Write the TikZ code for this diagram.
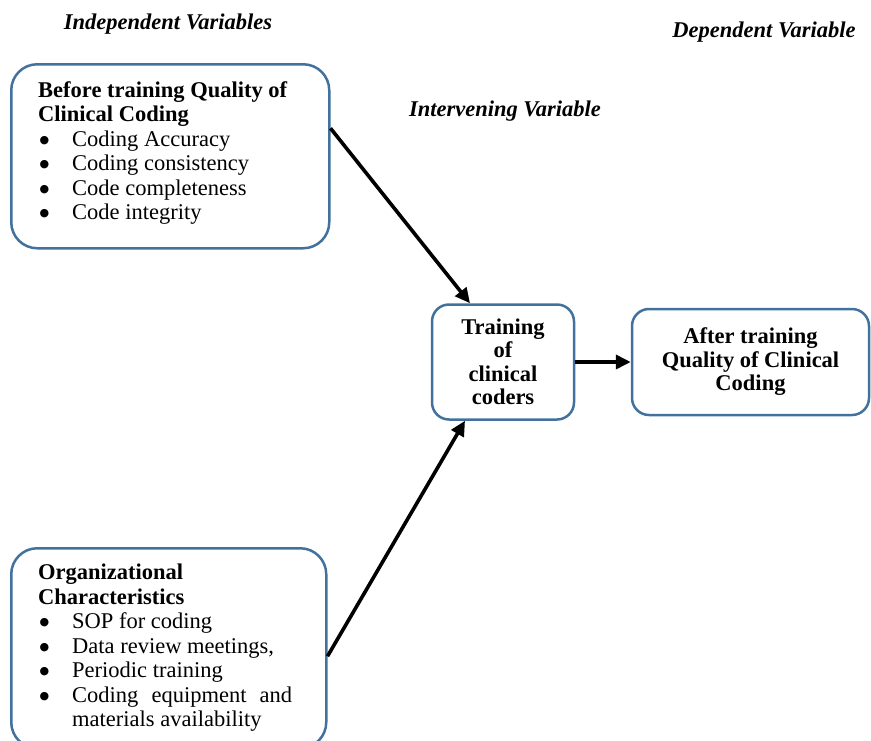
\documentclass[tikz,border=0pt]{standalone}
\usepackage{fontspec}
\setmainfont{Liberation Serif}
\newfontfamily\symfont{DejaVu Sans}
\usetikzlibrary{arrows.meta}

\definecolor{framecol}{HTML}{41719C}
\newcommand{\itm}[1]{\makebox[34pt][l]{\hspace{1.5pt}\raisebox{3pt}{\symfont\fontsize{11}{0}\selectfont ●}}#1}

\begin{document}
\begin{tikzpicture}[x=1pt,y=-1pt,
  varbox/.style={draw=framecol,line width=2.5pt,rounded corners=26pt},
  midbox/.style={varbox,rounded corners=17pt,align=center,inner sep=0pt,
    font=\fontsize{22.5}{23.5}\selectfont\bfseries},
  listtext/.style={anchor=north west,align=left,inner sep=0pt,
    font=\fontsize{22.5}{24.5}\selectfont},
  heading/.style={anchor=base,font=\fontsize{22.5}{25}\selectfont\bfseries\itshape},
  link/.style={-{Triangle[length=15pt,width=14pt]},line width=3.6pt}]
  \clip (0,0) rectangle (871,740);

  \node[heading] (indep) at (168,29) {Independent Variables};
  \node[heading] (interv) at (505,116) {Intervening Variable};
  \node[heading] (dep) at (764,37) {Dependent Variable};

  % independent variables
  \node[varbox,anchor=north west,minimum width=318pt,minimum height=184pt] (before) at (10,63) {};
  \node[listtext] (beforetxt) at (38,81) {\textbf{Before training Quality of}\\
    \textbf{Clinical Coding}\\
    \itm{Coding Accuracy}\\
    \itm{Coding consistency}\\
    \itm{Code completeness}\\
    \itm{Code integrity}};

  \node[varbox,anchor=north west,minimum width=315pt,minimum height=200pt] (org) at (10,547) {};
  \node[listtext] (orgtxt) at (38,564) {\textbf{Organizational}\\
    \textbf{Characteristics}\\
    \itm{SOP for coding}\\
    \itm{Data review meetings,}\\
    \itm{Periodic training}\\
    \itm{\parbox[t]{220pt}{Coding equipment and materials availability}}};

  % intervening and dependent variables
  \node[midbox,minimum width=142pt,minimum height=115pt] (train) at (503,362) {Training\\ of\\ clinical\\ coders};
  \node[midbox,minimum width=237pt,minimum height=106pt] (after) at (750.5,362) {After training\\ Quality of Clinical\\ Coding};

  \draw[link] ([yshift=28pt]before.east) -- ([xshift=-33pt]train.north);
  \draw[link] ([yshift=-8pt]org.east) -- ([xshift=-38pt]train.south);
  \draw[link] (train) -- (after);
\end{tikzpicture}
\end{document}
